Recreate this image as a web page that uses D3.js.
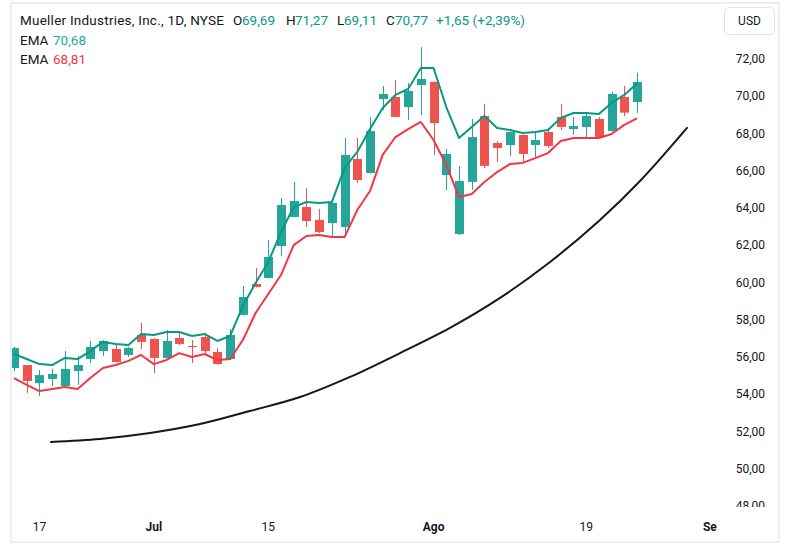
<!DOCTYPE html>
<html><head><meta charset="utf-8">
<script src="https://cdn.jsdelivr.net/npm/d3@7"></script>
<style>html,body{margin:0;padding:0;background:#fff;}svg{display:block;font-family:Roboto,"Noto Sans",sans-serif;}</style>
</head><body>
<script>
const dates = ["2024-06-13","2024-06-14","2024-06-17","2024-06-18","2024-06-20","2024-06-21","2024-06-24","2024-06-25","2024-06-26","2024-06-27","2024-06-28",
"2024-07-01","2024-07-02","2024-07-03","2024-07-05","2024-07-08","2024-07-09","2024-07-10","2024-07-11","2024-07-12","2024-07-15","2024-07-16","2024-07-17","2024-07-18","2024-07-19","2024-07-22","2024-07-23","2024-07-24","2024-07-25","2024-07-26","2024-07-29","2024-07-30","2024-07-31",
"2024-08-01","2024-08-02","2024-08-05","2024-08-06","2024-08-07","2024-08-08","2024-08-09","2024-08-12","2024-08-13","2024-08-14","2024-08-15","2024-08-16","2024-08-19","2024-08-20","2024-08-21","2024-08-22","2024-08-23"];
const open  = [55.41,55.57,54.60,54.82,54.44,55.25,55.89,56.32,56.43,56.11,57.18,56.97,55.95,57.02,56.59,57.07,56.27,55.89,58.26,59.92,60.24,61.96,63.52,64.05,63.36,63.19,62.98,66.63,65.88,69.85,69.96,69.42,70.60,70.77,65.77,62.60,65.40,68.94,67.49,67.38,67.92,67.38,68.08,68.89,68.24,68.35,68.78,68.13,69.96,69.69];
const high  = [56.54,55.57,55.30,55.36,56.32,56.05,56.86,56.91,56.70,56.54,57.83,57.00,57.45,57.40,56.91,57.29,56.48,57.50,59.81,60.78,62.28,64.54,65.40,65.07,63.95,64.30,67.76,67.76,68.89,70.55,70.87,70.71,72.64,70.80,67.17,66.26,68.78,69.58,67.60,68.10,67.95,68.13,68.30,69.58,68.89,69.15,68.89,70.23,70.55,71.27];
const low   = [55.25,54.07,53.91,54.44,54.40,54.50,55.68,56.05,55.70,56.00,56.43,55.14,55.90,56.64,55.68,56.21,55.60,55.85,58.22,59.74,60.22,61.42,63.50,62.98,62.66,62.39,62.55,65.34,65.85,69.26,68.87,68.72,68.99,66.85,64.97,62.55,64.97,66.15,66.47,66.79,66.42,66.74,67.22,68.19,67.92,67.81,67.78,68.10,68.94,69.11];
const close = [56.48,54.71,55.03,55.09,55.36,55.57,56.54,56.86,55.73,56.48,56.81,55.95,56.86,56.70,56.54,56.32,55.62,57.18,59.22,59.76,61.37,64.16,64.38,63.30,62.71,64.27,66.85,65.50,68.13,70.12,68.89,70.28,70.93,68.56,66.90,65.45,67.81,66.26,67.22,68.08,66.90,67.65,67.33,68.35,68.40,68.94,67.81,70.12,69.12,70.77];
const emaGreen = [56.16,55.89,55.62,55.57,55.95,55.89,56.32,56.81,56.70,56.64,57.23,57.18,57.34,57.34,57.13,57.23,56.86,57.13,58.74,59.97,61.10,62.71,64.05,64.32,64.27,64.32,66.15,67.01,68.24,69.37,70.07,70.39,71.52,71.52,69.42,67.76,68.35,68.94,68.30,68.19,68.03,68.08,68.19,68.83,69.10,69.10,69.05,69.64,70.07,70.68];
const emaRed = [54.87,54.50,54.17,54.28,54.39,54.28,54.87,55.41,55.57,55.79,56.11,55.62,55.84,56.21,56.00,56.16,55.84,55.89,56.91,58.36,59.38,60.40,62.01,62.50,62.55,62.44,62.44,63.89,64.91,66.85,67.81,68.24,68.62,67.65,66.31,64.59,64.75,65.40,65.93,66.36,66.42,66.68,66.95,67.60,67.76,67.76,67.76,67.97,68.46,68.81];
const curveIdx   = [2.91,6.76,10.70,14.63,18.56,22.50,26.43,30.36,34.29,38.23,42.16,46.09,49.39,52.93];
const curvePrice = [51.44,51.60,51.92,52.40,53.10,53.85,54.93,56.21,57.56,59.17,61.10,63.36,65.56,68.30];
const xTickLabels = ["17","Jul","15","Ago","19","Sep"];
const xTickIndex  = [2,11,20,33,45,55];
const xTickBold   = [false,true,false,true,false,true];
const yTicks = d3.range(48, 73, 2);
const header = {title:"Mueller Industries, Inc., 1D, NYSE", o:"69,69", h:"71,27", l:"69,11", c:"70,77", chg:"+1,65 (+2,39%)"};
const emaLabels = ["70,68","68,81"];

const W=789,H=548;
const plotL=11, plotR=717, plotT=3, plotB=510;
const UP="#26a69a", DN="#ef5350";
const svg=d3.select("body").append("svg").attr("width",W).attr("height",H);
const defs=svg.append("defs");
defs.append("clipPath").attr("id","plotclip").append("rect").attr("x",plotL).attr("y",plotT).attr("width",plotR-plotL).attr("height",plotB-plotT);
defs.append("clipPath").attr("id","yclip").append("rect").attr("x",plotR).attr("y",plotT).attr("width",W-plotR).attr("height",507-plotT);
defs.append("clipPath").attr("id","xclip").append("rect").attr("x",plotL).attr("y",plotB).attr("width",plotR-plotL).attr("height",H-plotB);

const x=d3.scaleLinear().domain([0,49]).range([14,637]);
const y=d3.scaleLinear().domain([48,72]).range([506,59]);

const data=dates.map((d,i)=>({d,i,o:open[i],h:high[i],l:low[i],c:close[i]}));
const g=svg.append("g").attr("clip-path","url(#plotclip)");
const bw=9;
const cg=g.selectAll("g.c").data(data).join("g").attr("class","c");
cg.append("line").attr("x1",d=>Math.round(x(d.i))+0.5).attr("x2",d=>Math.round(x(d.i))+0.5)
  .attr("y1",d=>y(d.h)).attr("y2",d=>y(d.l)).attr("stroke",d=>d.c>=d.o?UP:DN).attr("stroke-width",1);
cg.append("rect").attr("x",d=>Math.round(x(d.i))+0.5-bw/2).attr("width",bw)
  .attr("y",d=>y(Math.max(d.o,d.c))).attr("height",d=>Math.max(1,Math.abs(y(d.o)-y(d.c))))
  .attr("fill",d=>d.c>=d.o?UP:DN);

const line=d3.line().x((d,i)=>x(i)).y(d=>y(d));
g.append("path").attr("d",line(emaGreen)).attr("fill","none").attr("stroke","#089981").attr("stroke-width",2).attr("stroke-linejoin","round");
g.append("path").attr("d",line(emaRed)).attr("fill","none").attr("stroke","#f23645").attr("stroke-width",2).attr("stroke-linejoin","round");

const cl=d3.line().x(d=>x(d[0])).y(d=>y(d[1])).curve(d3.curveCatmullRom.alpha(0.5));
g.append("path").attr("d",cl(curveIdx.map((v,i)=>[v,curvePrice[i]]))).attr("fill","none").attr("stroke","#131722").attr("stroke-width",2).attr("stroke-linecap","round");

// y axis labels
const ya=svg.append("g").attr("clip-path","url(#yclip)");
ya.selectAll("text").data(yTicks).join("text").attr("x",765).attr("y",d=>y(d)).attr("dy","0.35em")
  .attr("text-anchor","end").attr("font-size",12).attr("fill","#131722").text(d=>d.toFixed(2).replace(".",","));

// x axis labels
const xa=svg.append("g").attr("clip-path","url(#xclip)");
xa.selectAll("text").data(xTickLabels).join("text").attr("x",(d,i)=>x(xTickIndex[i])).attr("y",527).attr("dy","0.35em")
  .attr("text-anchor","middle").attr("font-size",12).attr("font-weight",(d,i)=>xTickBold[i]?"bold":"normal").attr("fill","#131722").text(d=>d);

// frame
svg.append("rect").attr("x",11).attr("y",3).attr("width",768).attr("height",539).attr("fill","none").attr("stroke","#eceef3").attr("stroke-width",2);

// USD box
svg.append("rect").attr("x",724.5).attr("y",7.5).attr("width",50).attr("height",27).attr("rx",4).attr("fill","#fff").attr("stroke","#e0e3eb");
svg.append("text").attr("x",749.5).attr("y",21).attr("dy","0.35em").attr("text-anchor","middle").attr("font-size",12).attr("fill","#131722").text("USD");

// header
const hd=svg.append("g").attr("font-size",13.5);
const TEAL="#089981";
const hitems=[[20,header.title,"#131722",204],[233,"O","#131722",0],[242,header.o,TEAL,0],[286,"H","#131722",0],[295,header.h,TEAL,0],[337,"L","#131722",0],[344,header.l,TEAL,0],[386,"C","#131722",0],[395,header.c,TEAL,0],[436,header.chg,TEAL,89]];
hd.selectAll("text.h").data(hitems).join("text").attr("class","h").attr("x",d=>d[0]).attr("y",20).attr("dy","0.35em").attr("fill",d=>d[2])
  .each(function(d){ if(d[3]) d3.select(this).attr("textLength",d[3]).attr("lengthAdjust","spacing"); })
  .text(d=>d[1]);
const ecol=["#22ab94","#f23645"];
emaLabels.forEach((v,i)=>{
  hd.append("text").attr("x",20).attr("y",40+i*19).attr("dy","0.35em").attr("fill","#131722").text("EMA");
  hd.append("text").attr("x",53).attr("y",40+i*19).attr("dy","0.35em").attr("fill",ecol[i]).text(v);
});
</script>
</body></html>
